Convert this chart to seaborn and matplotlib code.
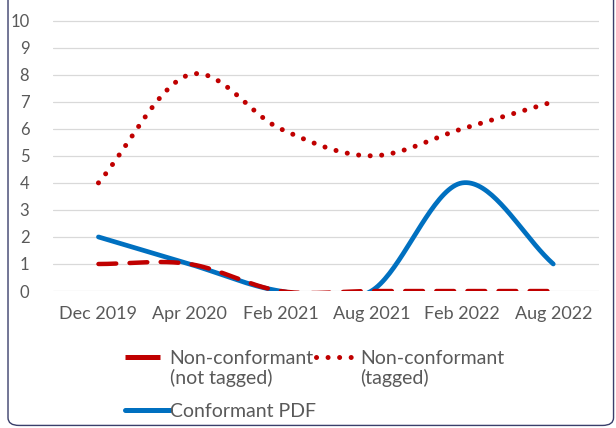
import numpy as np
import pandas as pd
import matplotlib
matplotlib.use("Agg")
import matplotlib.pyplot as plt
import seaborn as sns
from matplotlib.patches import FancyBboxPatch
from matplotlib.lines import Line2D

# data
months = ["Dec 2019", "Apr 2020", "Feb 2021", "Aug 2021", "Feb 2022", "Aug 2022"]
not_tagged = [1, 1, 0, 0, 0, 0]
tagged = [4, 8, 6, 5, 6, 7]
conformant = [2, 1, 0, 0, 4, 1]

red = "#C00000"
blue = "#0070C0"
grey = "#595959"


def smooth(vals, n=40):
    # catmull-rom curve like excel "smoothed line"
    y = np.asarray(vals, dtype=float)
    x = np.arange(len(y), dtype=float)
    px = np.concatenate([[2 * x[0] - x[1]], x, [2 * x[-1] - x[-2]]])
    py = np.concatenate([[2 * y[0] - y[1]], y, [2 * y[-1] - y[-2]]])
    xs, ys = [], []
    for i in range(1, len(px) - 2):
        t = np.linspace(0, 1, n, endpoint=False)
        for arr, out in ((px, xs), (py, ys)):
            p0, p1, p2, p3 = arr[i - 1], arr[i], arr[i + 1], arr[i + 2]
            out.append(0.5 * ((2 * p1) + (-p0 + p2) * t
                              + (2 * p0 - 5 * p1 + 4 * p2 - p3) * t ** 2
                              + (-p0 + 3 * p1 - 3 * p2 + p3) * t ** 3))
    xs = np.concatenate(xs + [[x[-1]]])
    ys = np.concatenate(ys + [[y[-1]]])
    return pd.DataFrame({"x": xs, "y": ys})


sns.set_style("white")
plt.rcParams["font.family"] = ["Lato", "DejaVu Sans"]

fig = plt.figure(figsize=(6.16, 4.28), dpi=100)
ax = fig.add_axes([0.086, 0.32, 0.886, 0.635])

# frame around the chart (top is cut off in the original)
fig.patches.append(FancyBboxPatch((0.013, 0.006), 0.983, 1.2,
                                  boxstyle="round,pad=0,rounding_size=0.018",
                                  transform=fig.transFigure, fill=False,
                                  edgecolor="#3a3f6b", linewidth=1.0))

for yv in range(0, 11):
    ax.axhline(yv, color="#D9D9D9", lw=0.9, zorder=0)

dotted = (0, (0.01, 2.3))

d1 = smooth(not_tagged)
d2 = smooth(tagged)
d3 = smooth(conformant)
sns.lineplot(data=d3, x="x", y="y", ax=ax, color=blue, lw=3.4, sort=False,
             solid_capstyle="round")
sns.lineplot(data=d1, x="x", y="y", ax=ax, color=red, lw=3.2, sort=False)
ax.lines[-1].set_linestyle((0, (4, 3)))
ax.lines[-1].set_dash_capstyle("round")
sns.lineplot(data=d2, x="x", y="y", ax=ax, color=red, lw=3.6, sort=False)
ax.lines[-1].set_linestyle(dotted)
ax.lines[-1].set_dash_capstyle("round")

ax.set_xlim(-0.5, len(months) - 0.5)
ax.set_ylim(0, 10.05)
ax.set_xticks(range(len(months)))
ax.set_xticklabels(months)
ax.set_yticks(range(0, 11))
ax.tick_params(axis="both", colors=grey, length=0)
ax.tick_params(axis="x", pad=11, labelsize=13)
ax.tick_params(axis="y", pad=17, labelsize=12)
ax.set_xlabel("")
ax.set_ylabel("")
sns.despine(ax=ax, left=True, bottom=True)

h1 = Line2D([], [], color=red, lw=3.6, linestyle=(0, (7, 10)))
h2 = Line2D([], [], color=red, lw=3.6, linestyle=dotted, dash_capstyle="round")
h3 = Line2D([], [], color=blue, lw=3.6)
leg = fig.legend([h1, h3, h2], ["Non-conformant", "Conformant PDF", "Non-conformant"],
                 ncol=2, loc="upper left", bbox_to_anchor=(0.187, 0.205),
                 frameon=False, fontsize=14, handlelength=2.3, borderpad=0,
                 handletextpad=0.0, columnspacing=0.0, labelspacing=1.85)
for t in leg.get_texts():
    t.set_color(grey)

# second lines of the two-line legend labels
fig.canvas.draw()
inv = fig.transFigure.inverted()
for t, extra in ((leg.get_texts()[0], "(not tagged)"), (leg.get_texts()[2], "(tagged)")):
    bb = t.get_window_extent()
    x0, y0 = inv.transform((bb.x0, bb.y0 - 2))
    fig.text(x0, y0, extra, fontsize=14, color=grey, ha="left", va="top")

fig.savefig("out.png", dpi=100)
